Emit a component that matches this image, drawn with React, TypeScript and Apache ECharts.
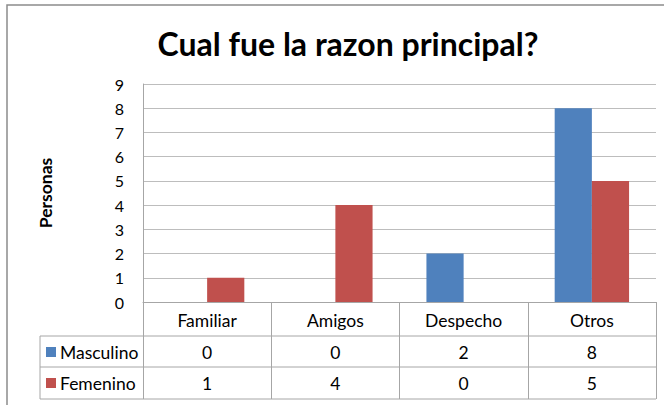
import React, { useEffect, useRef } from "react";
import * as echarts from "echarts";

const categories = ["Familiar", "Amigos", "Despecho", "Otros"];
const masculino = [0, 0, 2, 8];
const femenino = [1, 4, 0, 5];
const seriesNames = ["Masculino", "Femenino"];
const title = "Cual fue la razon principal?";
const yName = "Personas";

const W = 664;
const H = 405;
const GL = 143; // plot left
const GR = 656; // plot right
const GT = 84; // plot top
const GB = 302; // plot bottom
const ROW1 = 336;
const ROW2 = 367;
const ROW3 = 399;
const TL = 40; // table left
const FONT = "Lato, 'Open Sans', sans-serif";
const LINE = "#A6A6A6";
const TFS = 17.5;

export default function App() {
  const ref = useRef<HTMLDivElement>(null);
  useEffect(() => {
    if (!ref.current) return;
    const chart = echarts.init(ref.current, undefined, { renderer: "svg" });
    const hLine = (y: number) => ({
      type: "line",
      shape: { x1: TL, y1: y, x2: GR, y2: y },
      style: { stroke: LINE, lineWidth: 1 },
      silent: true,
    });
    const legendBase = {
      left: TL + 6,
      icon: "rect",
      itemWidth: 10,
      itemHeight: 10,
      itemGap: 4,
      padding: 0,
      textStyle: { fontFamily: FONT, fontSize: TFS, color: "#000", padding: [0, 0, 0, -1] },
      selectedMode: false,
    };
    const option: any = {
      animation: false,
      backgroundColor: "#ffffff",
      textStyle: { fontFamily: FONT },
      title: {
        text: title,
        left: 343,
        textAlign: "center",
        top: 22,
        textStyle: { fontFamily: FONT, fontSize: 32, fontWeight: "bold", color: "#000" },
      },
      legend: [
        { ...legendBase, data: [seriesNames[0]], top: ROW1 + 7 },
        { ...legendBase, data: [seriesNames[1]], top: ROW2 + 7 },
      ],
      grid: { left: GL, right: W - GR, top: GT, bottom: H - GB, containLabel: false },
      xAxis: [
        {
          type: "category",
          data: categories,
          position: "bottom",
          axisLine: { show: true, lineStyle: { color: LINE } },
          axisTick: { show: true, length: ROW1 - GB, lineStyle: { color: LINE } },
          axisLabel: { fontFamily: FONT, fontSize: TFS, color: "#000", margin: 9 },
        },
        {
          type: "category",
          data: categories,
          position: "bottom",
          offset: ROW1 - GB,
          axisLine: { show: false },
          axisTick: { show: true, length: ROW2 - ROW1, lineStyle: { color: LINE } },
          axisLabel: {
            fontFamily: FONT,
            fontSize: TFS,
            color: "#000",
            margin: 7,
            formatter: (_v: string, i: number) => String(masculino[i]),
          },
        },
        {
          type: "category",
          data: categories,
          position: "bottom",
          offset: ROW2 - GB,
          axisLine: { show: false },
          axisTick: { show: true, length: ROW3 - ROW2, lineStyle: { color: LINE } },
          axisLabel: {
            fontFamily: FONT,
            fontSize: TFS,
            color: "#000",
            margin: 7,
            formatter: (_v: string, i: number) => String(femenino[i]),
          },
        },
      ],
      yAxis: {
        type: "value",
        min: 0,
        max: 9,
        interval: 1,
        name: yName,
        nameLocation: "middle",
        nameRotate: 90,
        nameGap: 89,
        nameTextStyle: { fontFamily: FONT, fontSize: 17.5, fontWeight: "bold", color: "#000" },
        axisLine: { show: true, lineStyle: { color: LINE } },
        axisTick: { show: false },
        splitLine: { show: true, lineStyle: { color: "#BDBDBD" } },
        axisLabel: { fontFamily: FONT, fontSize: 16, color: "#000", margin: 19 },
      },
      series: [
        {
          name: seriesNames[0],
          type: "bar",
          data: masculino,
          xAxisIndex: 0,
          barGap: "0%",
          barCategoryGap: "42%",
          itemStyle: { color: "#4F81BD" },
        },
        {
          name: seriesNames[1],
          type: "bar",
          data: femenino,
          xAxisIndex: 0,
          barGap: "0%",
          barCategoryGap: "42%",
          itemStyle: { color: "#C0504D" },
        },
      ],
      graphic: [
        {
          type: "rect",
          shape: { x: 7, y: 5, width: 720, height: 460 },
          style: { fill: "none", stroke: "#8C8C8C", lineWidth: 1.5 },
          silent: true,
        },
        hLine(ROW1),
        hLine(ROW2),
        hLine(ROW3),
        {
          type: "line",
          shape: { x1: TL, y1: ROW1, x2: TL, y2: ROW3 },
          style: { stroke: LINE, lineWidth: 1 },
          silent: true,
        },
      ],
    };
    chart.setOption(option);
    return () => chart.dispose();
  }, []);
  return (
    <div
      ref={ref}
      style={{ position: "fixed", left: 0, top: 0, width: W, height: H }}
    />
  );
}
